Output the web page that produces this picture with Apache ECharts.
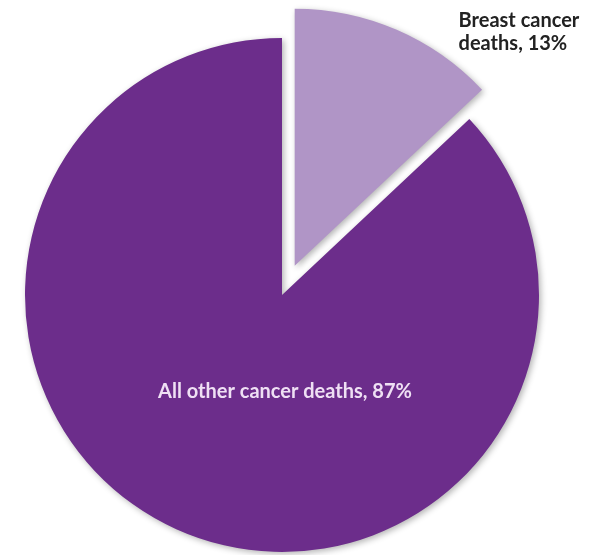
<!DOCTYPE html>
<html>
<head>
<meta charset="utf-8">
<script src="https://cdn.jsdelivr.net/npm/echarts@6/dist/echarts.min.js"></script>
<style>
html,body{margin:0;padding:0;background:#fff;}
#c{width:590px;height:555px;}
</style>
</head>
<body>
<div id="c"></div>
<script>
const categories = ["Breast cancer deaths", "All other cancer deaths"];
const values = [13, 87];
const labelTexts = ["Breast cancer\ndeaths, 13%", "All other cancer deaths, 87%"];
const colors = ["#b095c6", "#6c2d8b"];

const chart = echarts.init(document.getElementById('c'), null, {renderer: 'canvas'});
chart.setOption({
  animation: false,
  series: [{
    type: 'pie',
    center: [282, 295],
    radius: [0, 257],
    startAngle: 90,
    clockwise: true,
    selectedMode: 'single',
    selectedOffset: 32,
    avoidLabelOverlap: false,
    itemStyle: {
      shadowBlur: 6,
      shadowColor: 'rgba(0,0,0,0.3)',
      shadowOffsetX: 2,
      shadowOffsetY: 2
    },
    labelLine: {show: false},
    emphasis: {disabled: true},
    labelLayout: function (params) {
      if (params.dataIndex === 1) {
        return {x: 285, y: 392, align: 'center', verticalAlign: 'middle'};
      }
      return {};
    },
    data: values.map((v, i) => ({
      name: categories[i],
      value: v,
      selected: i === 0,
      itemStyle: {color: colors[i]},
      labelLine: i === 0 ? {show: false, length: -3, length2: 58} : {show: false},
      label: i === 0 ? {
        show: true,
        position: 'outside',
        formatter: labelTexts[i],
        color: '#222222',
        fontFamily: 'Lato',
        fontWeight: 'bold',
        fontSize: 20,
        lineHeight: 23,
        align: 'left'
      } : {
        show: true,
        position: 'inside',
        formatter: labelTexts[i],
        color: '#efe0f4',
        fontFamily: 'Lato',
        fontWeight: 'bold',
        fontSize: 20,
        align: 'center'
      }
    }))
  }]
});
</script>
</body>
</html>
